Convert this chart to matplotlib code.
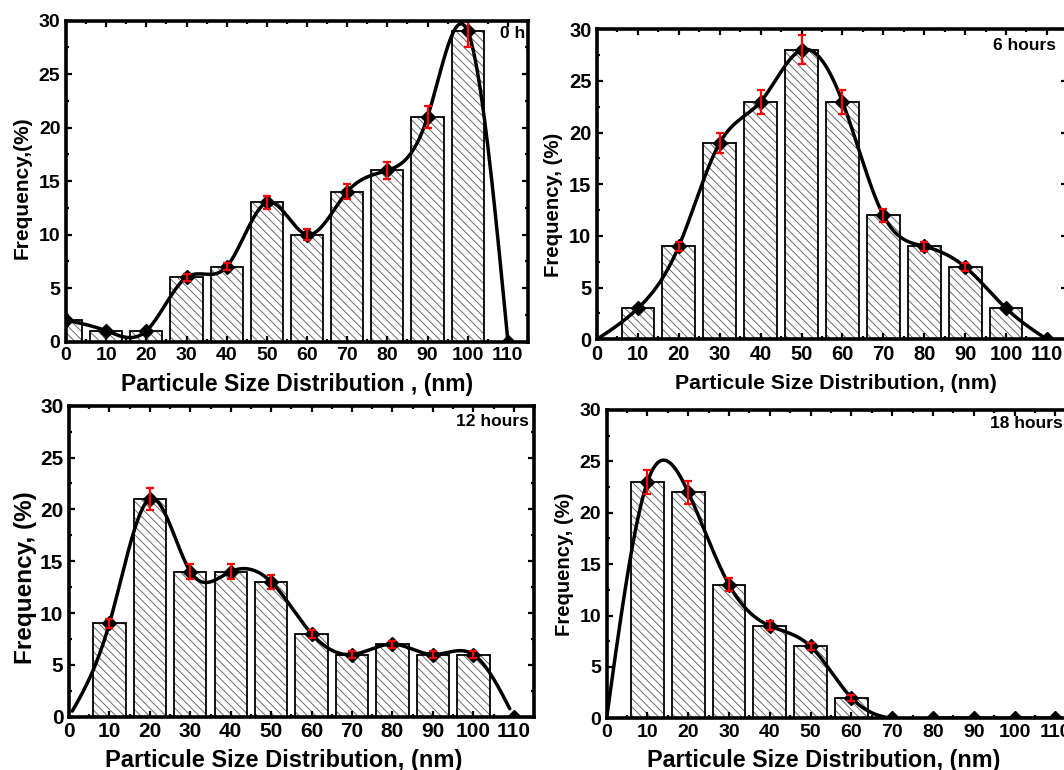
import numpy as np
import matplotlib
matplotlib.use("Agg")
import matplotlib.pyplot as plt
from matplotlib.ticker import MultipleLocator

plt.rcParams['font.family'] = ['Liberation Sans', 'DejaVu Sans']
plt.rcParams['font.weight'] = 'bold'
plt.rcParams['hatch.linewidth'] = 0.7

# Particle size classes (nm) and measured frequencies (%) at each ageing time
sizes = [0, 10, 20, 30, 40, 50, 60, 70, 80, 90, 100, 110]

freq_0h = [2, 1, 1, 6, 7, 13, 10, 14, 16, 21, 29, 0]
err_0h = [0, 0, 0, 0.3, 0.35, 0.65, 0.5, 0.7, 0.8, 1.05, 1.45, 0]

freq_6h = [0, 3, 9, 19, 23, 28, 23, 12, 9, 7, 3, 0]
err_6h = [0, 0, 0.45, 0.95, 1.15, 1.4, 1.15, 0.6, 0.45, 0.35, 0, 0]

freq_12h = [0, 9, 21, 14, 14, 13, 8, 6, 7, 6, 6, 0]
err_12h = [0, 0.45, 1.05, 0.7, 0.7, 0.65, 0.4, 0.3, 0.35, 0.3, 0.3, 0]

freq_18h = [0, 23, 22, 13, 9, 7, 2, 0, 0, 0, 0, 0]
err_18h = [0, 1.15, 1.1, 0.65, 0.45, 0.35, 0.3, 0, 0, 0, 0, 0]

labels = ["0 h", "6 hours", "12 hours", "18 hours"]
xlabels = ["Particule Size Distribution , (nm)",
           "Particule Size Distribution, (nm)",
           "Particule Size Distribution, (nm)",
           "Particule Size Distribution, (nm)"]
ylabels = ["Frequency,(%)", "Frequency, (%)", "Frequency, (%)", "Frequency, (%)"]

W, H = 1064, 770
fig = plt.figure(figsize=(W / 100, H / 100), dpi=100)


def fx(px):
    return px / W


def fy(py):
    return 1 - py / H


def natural_spline(x, y, xs):
    x = np.asarray(x, float)
    y = np.asarray(y, float)
    n = len(x)
    h = np.diff(x)
    A = np.zeros((n, n))
    b = np.zeros(n)
    A[0, 0] = A[-1, -1] = 1
    for i in range(1, n - 1):
        A[i, i - 1] = h[i - 1]
        A[i, i] = 2 * (h[i - 1] + h[i])
        A[i, i + 1] = h[i]
        b[i] = 3 * ((y[i + 1] - y[i]) / h[i] - (y[i] - y[i - 1]) / h[i - 1])
    c = np.linalg.solve(A, b)
    bb = (y[1:] - y[:-1]) / h - h * (2 * c[:-1] + c[1:]) / 3
    d = (c[1:] - c[:-1]) / (3 * h)
    idx = np.clip(np.searchsorted(x, xs) - 1, 0, n - 2)
    t = xs - x[idx]
    return y[idx] + bb[idx] * t + c[idx] * t ** 2 + d[idx] * t ** 3


# panel geometry in pixels: left, top, right, bottom
panels = [
    dict(box=(66, 20.7, 528, 341.5), freq=freq_0h, err=err_0h, bars=range(0, 11),
         marks=range(0, 12), curve=(0, 110), tick=14, lab=(525, 33),
         xl=(297, 391, 16.5), yl=(22.5, 187.5, 15)),
    dict(box=(597, 29.3, 1067.4, 339.3), freq=freq_6h, err=err_6h, bars=range(1, 11),
         marks=range(1, 12), curve=(0.8, 110), tick=14.5, lab=(1056, 45),
         xl=(836, 389, 15.3), yl=(553.6, 205, 14.7)),
    dict(box=(69, 405.7, 534, 716.7), freq=freq_12h, err=err_12h, bars=range(1, 11),
         marks=range(1, 12), curve=(0.8, 109), tick=15, lab=(529, 422),
         xl=(284, 766.5, 17), yl=(26, 577.5, 17.5)),
    dict(box=(606.6, 410, 1075.8, 718.3), freq=freq_18h, err=err_18h, bars=range(1, 7),
         marks=range(1, 12), curve=(0, 110), tick=14, lab=(1063, 424),
         xl=(824, 766.5, 16.8), yl=(564.5, 564, 14.6)),
]

for p, lab, xlab, ylab in zip(panels, labels, xlabels, ylabels):
    l, t, r, b = p['box']
    ax = fig.add_axes([fx(l), fy(b), fx(r) - fx(l), fy(t) - fy(b)])
    xs_all = np.array(sizes, float)
    fr = np.array(p['freq'], float)
    er = np.array(p['err'], float)
    bi = list(p['bars'])
    mi = list(p['marks'])

    ax.bar(xs_all[bi], fr[bi], width=8, color='white', edgecolor='#6a6a6a',
           hatch='\\\\\\\\', linewidth=0, zorder=1)
    ax.bar(xs_all[bi], fr[bi], width=8, facecolor='none', edgecolor='black',
           linewidth=1.3, zorder=2)

    xc = np.linspace(p['curve'][0], p['curve'][1], 400)
    yc = natural_spline(xs_all, fr, xc)
    ax.plot(xc, yc, color='black', lw=2.5, zorder=3, solid_capstyle='round')

    ax.plot(xs_all[mi], fr[mi], linestyle='none', marker='D', markersize=7.5,
            color='black', zorder=4)
    ei = [i for i in mi if er[i] > 0]
    ax.errorbar(xs_all[ei], fr[ei], yerr=er[ei], fmt='none', ecolor='red',
                elinewidth=1.6, capsize=3, capthick=1.6, zorder=5)

    ax.set_xlim(0, 115)
    ax.set_ylim(0, 30)
    ax.xaxis.set_major_locator(MultipleLocator(10))
    ax.xaxis.set_minor_locator(MultipleLocator(5))
    ax.yaxis.set_major_locator(MultipleLocator(5))
    ax.yaxis.set_minor_locator(MultipleLocator(2.5))
    ax.tick_params(which='both', direction='in', top=True, right=True,
                   width=1.6, labelsize=p['tick'], pad=4)
    ax.tick_params(which='major', length=4)
    ax.tick_params(which='minor', length=2.5)
    for s in ax.spines.values():
        s.set_linewidth(2.6)
        s.set_zorder(6)
    for tl in ax.get_xticklabels() + ax.get_yticklabels():
        tl.set_fontweight('bold')

    lx, ly = p['lab']
    fig.text(fx(lx), fy(ly), lab, ha='right', va='center', fontsize=12.5,
             fontweight='bold')
    x0, y0, fs = p['xl']
    fig.text(fx(x0), fy(y0), xlab, ha='center', va='baseline', fontsize=fs,
             fontweight='bold')
    x0, y0, fs = p['yl']
    fig.text(fx(x0), fy(y0), ylab, ha='center', va='center', rotation=90,
             fontsize=fs, fontweight='bold')

fig.savefig('out.png', dpi=100)
